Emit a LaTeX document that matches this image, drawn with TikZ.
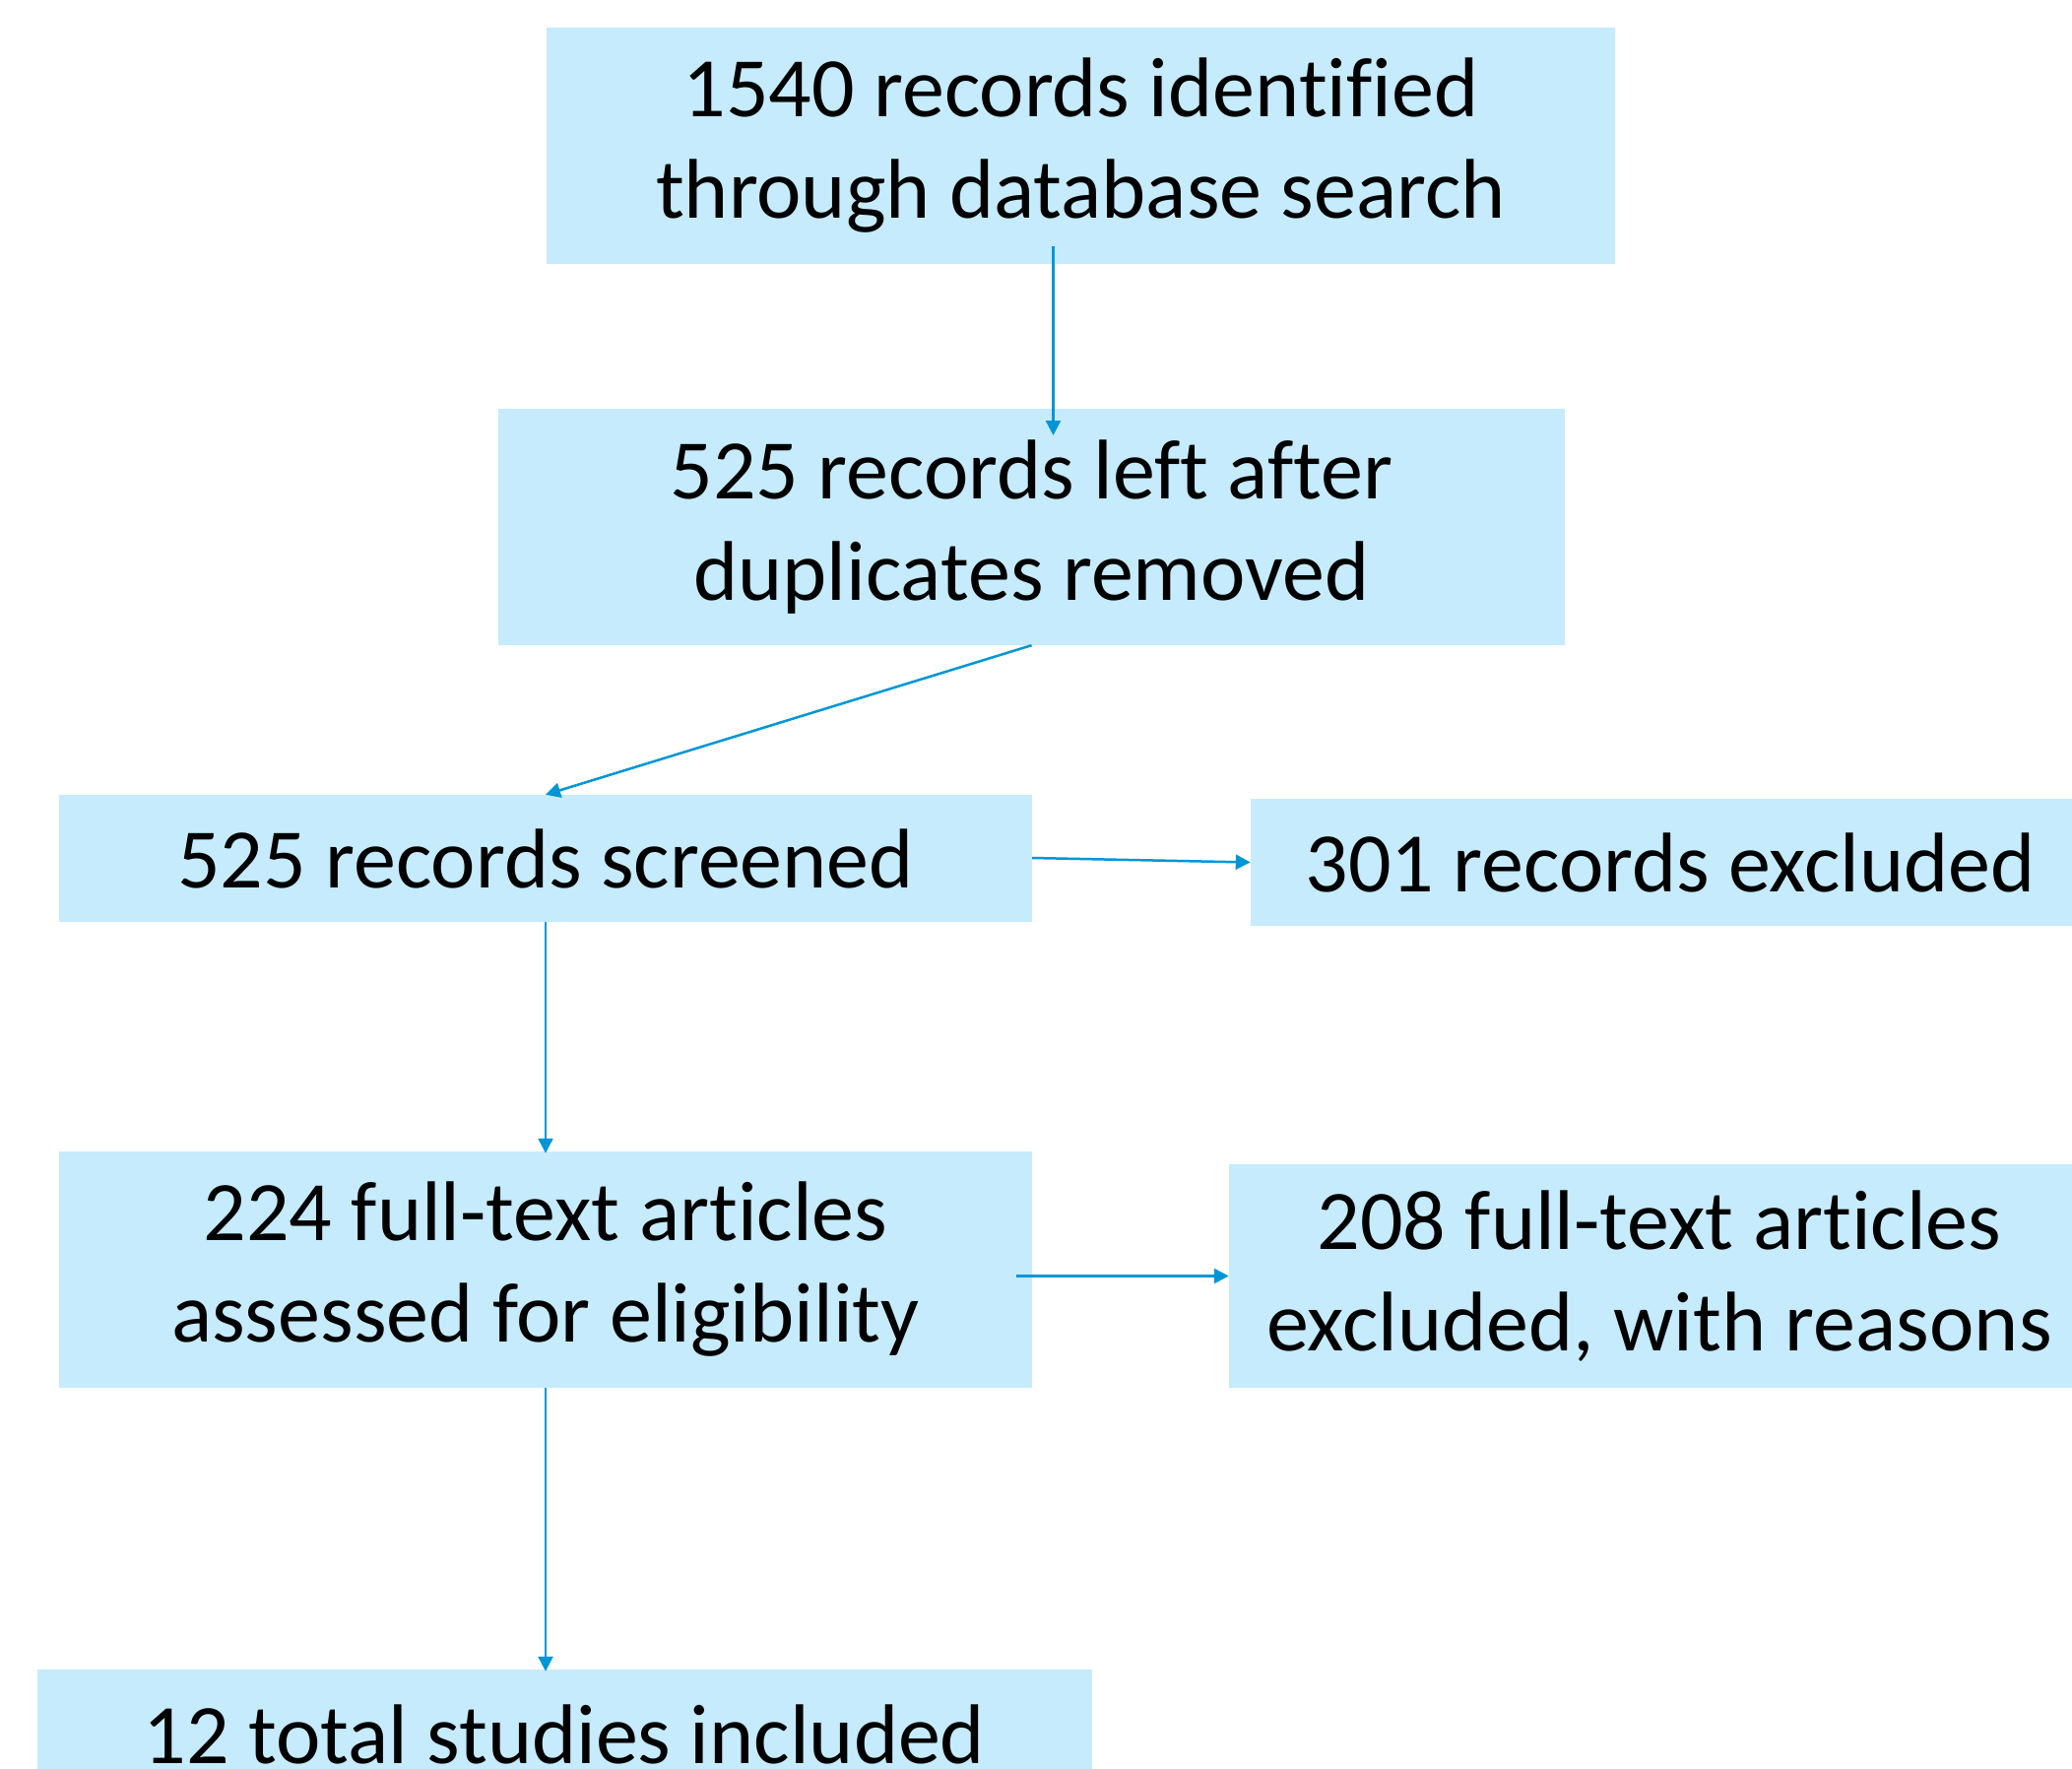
\documentclass[tikz,border=0pt]{standalone}
\usepackage{fontspec}
\setmainfont{Carlito}[Ligatures={NoCommon}]
\usetikzlibrary{arrows.meta}
\definecolor{boxfill}{RGB}{197,235,252}
\definecolor{arrowblue}{RGB}{0,150,214}
\begin{document}
\begin{tikzpicture}[x=1pt,y=-1pt,
  flowbox/.style={fill=boxfill, draw=none, inner sep=0pt, align=center,
    font=\fontsize{86}{103}\selectfont},
  flowarrow/.style={draw=arrowblue, line width=2.5pt,
    -{Triangle[length=15pt,width=15pt]}}]
\useasboundingbox (0,0) rectangle (2104,1796);
\clip (0,0) rectangle (2104,1796);
\node[flowbox, minimum width=1085pt, minimum height=240pt] (b1) at (1097.5,148) {1540 records identified\\through database search};
\node[flowbox, minimum width=1083pt, minimum height=240pt] (b2) at (1047.5,535) {525 records left after\\duplicates removed};
\node[flowbox, minimum width=988pt, minimum height=129pt] (b3) at (554,871.5) {525 records screened};
\node[flowbox, minimum width=852pt, minimum height=129pt] (b4) at (1696,875.5) {301 records excluded};
\node[flowbox, minimum width=988pt, minimum height=240pt] (b5) at (554,1289) {224 full-text articles\\assessed for eligibility};
\node[flowbox, minimum width=874pt, minimum height=227pt] (b6) at (1685,1295.5) {208 full-text articles\\excluded, with reasons};
\node[flowbox, minimum width=1071pt, minimum height=132pt] (b7) at (573,1761) {12 total studies included};
\coordinate (a1s) at (1069.5,250);
\coordinate (a1e) at (1069.5,442);
\coordinate (a3s) at (1048,871);
\coordinate (a5s) at (1032,1295.5);
\draw[flowarrow] (a1s) -- (a1e);
\draw[flowarrow] (b2.south) -- (b3.north);
\draw[flowarrow] (a3s) -- (b4.west);
\draw[flowarrow] (b3.south) -- ([yshift=-2pt]b5.north);
\draw[flowarrow] (a5s) -- (b6.west);
\draw[flowarrow] (b5.south) -- ([yshift=-2pt]b5.south |- b7.north);
\end{tikzpicture}
\end{document}
